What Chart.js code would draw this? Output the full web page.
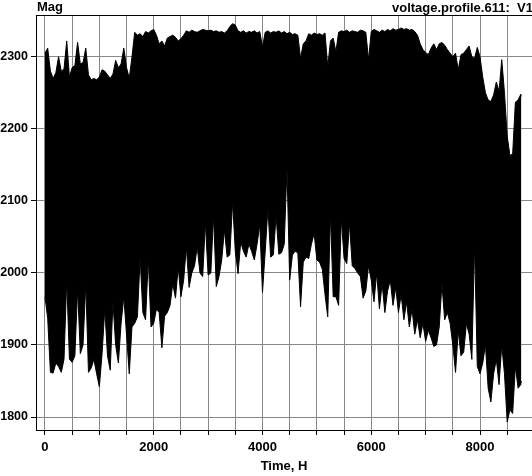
<!DOCTYPE html>
<html>
<head>
<meta charset="utf-8">
<script src="https://cdn.jsdelivr.net/npm/chart.js@4/dist/chart.umd.min.js"></script>
<style>
  html, body { margin: 0; padding: 0; background: #fff; }
  #wrap { width: 532px; height: 476px; }
</style>
</head>
<body>
<div id="wrap"><canvas id="chart" width="532" height="476"></canvas></div>
<script>
// sample hours (x axis)
const hours = [
  0, 50, 100, 150, 200, 250, 300, 350, 400, 450, 500, 550, 600, 650, 700, 750, 800, 850, 900, 950,
  1000, 1050, 1100, 1150, 1200, 1250, 1300, 1350, 1400, 1450, 1500, 1550, 1600, 1650, 1700, 1750, 1800, 1850, 1900, 1950,
  2000, 2050, 2100, 2150, 2200, 2250, 2300, 2350, 2400, 2450, 2500, 2550, 2600, 2650, 2700, 2750, 2800, 2850, 2900, 2950,
  3000, 3050, 3100, 3150, 3200, 3250, 3300, 3350, 3400, 3450, 3500, 3550, 3600, 3650, 3700, 3750, 3800, 3850, 3900, 3950,
  4000, 4050, 4100, 4150, 4200, 4250, 4300, 4350, 4400, 4450, 4500, 4550, 4600, 4650, 4700, 4750, 4800, 4850, 4900, 4950,
  5000, 5050, 5100, 5150, 5200, 5250, 5300, 5350, 5400, 5450, 5500, 5550, 5600, 5650, 5700, 5750, 5800, 5850, 5900, 5950,
  6000, 6050, 6100, 6150, 6200, 6250, 6300, 6350, 6400, 6450, 6500, 6550, 6600, 6650, 6700, 6750, 6800, 6850, 6900, 6950,
  7000, 7050, 7100, 7150, 7200, 7250, 7300, 7350, 7400, 7450, 7500, 7550, 7600, 7650, 7700, 7750, 7800, 7850, 7900, 7950,
  8000, 8050, 8100, 8150, 8200, 8250, 8300, 8350, 8400, 8450, 8500, 8550, 8600, 8650, 8700, 8750, 8760
];

// upper envelope of the voltage magnitude
const upperV = [
  2305, 2312, 2280, 2270, 2278, 2300, 2280, 2283, 2322, 2272, 2285, 2288, 2320, 2290, 2292, 2312, 2275, 2268, 2270, 2268,
  2272, 2282, 2280, 2275, 2270, 2276, 2295, 2285, 2290, 2312, 2285, 2270, 2300, 2334, 2330, 2332, 2328, 2335, 2333, 2336,
  2338, 2330, 2318, 2322, 2315, 2326, 2328, 2330, 2327, 2322, 2325, 2330, 2336, 2334, 2337, 2335, 2334, 2336, 2338, 2337,
  2336, 2337, 2335, 2336, 2334, 2335, 2333, 2336, 2342, 2346, 2344, 2336, 2334, 2336, 2333, 2335, 2334, 2336, 2333, 2335,
  2314, 2334, 2336, 2333, 2335, 2334, 2336, 2333, 2335, 2332, 2334, 2331, 2332, 2330, 2298, 2318, 2322, 2332, 2330, 2333,
  2331, 2332, 2330, 2333, 2286, 2322, 2326, 2307, 2334, 2336, 2335, 2337, 2334, 2336, 2335, 2334, 2337, 2336, 2334, 2296,
  2335, 2338, 2336, 2334, 2337, 2335, 2338, 2336, 2339, 2337, 2338, 2340, 2338, 2339, 2337, 2338, 2335, 2330, 2318, 2310,
  2306, 2303, 2312, 2318, 2310, 2318, 2320, 2316, 2310, 2305, 2300, 2305, 2282, 2303, 2305, 2310, 2315, 2300, 2298, 2313,
  2300, 2272, 2250, 2240, 2238, 2247, 2265, 2252, 2296, 2250, 2190, 2163, 2165, 2237, 2240, 2248, 2245
];

// lower envelope of the voltage magnitude
const lowerV = [
  1967, 1937, 1862, 1861, 1875, 1870, 1862, 1880, 1990, 1880, 1876, 1885, 1978, 1888, 1900, 1985, 1862, 1868, 1880, 1860,
  1842, 1888, 1950, 1885, 1865, 1960, 1900, 1875, 1930, 1967, 1914, 1860, 1925, 1930, 1939, 2021, 1945, 1935, 2020, 1925,
  1930, 1950, 1945, 1896, 1940, 1945, 1955, 1985, 1965, 2008, 1967, 1990, 2036, 1980, 2000, 2010, 2036, 2000, 1995, 2070,
  1997, 2000, 2080, 1981, 1995, 2018, 2060, 2022, 2025, 2099, 2030, 1999, 2043, 2030, 2022, 2040, 2030, 2018, 2040, 2067,
  1973, 2030, 2090, 2022, 2025, 2080, 2026, 2028, 2040, 2146, 1990, 2025, 2030, 2028, 1953, 2015, 2022, 2020, 2040, 2055,
  2018, 2015, 2005, 1970, 1939, 2083, 1967, 1967, 1955, 2076, 2020, 2013, 2069, 2010, 2006, 2000, 1995, 1965, 1975, 2010,
  1990, 1960, 2000, 1950, 1985, 1945, 1975, 1990, 1955, 1980, 1945, 1970, 1935, 1960, 1925, 1950, 1915, 1935, 1910, 1930,
  1905, 1920, 1910, 1898, 1900, 1925, 1985, 1935, 1945, 1930, 1900, 1862, 1920, 1885, 1890, 1930, 1915, 1880, 2039, 1870,
  1860, 1875, 1900, 1840, 1821, 1860, 1880, 1845, 1900, 1860, 1793, 1810, 1805, 1870, 1840, 1845, 1850
];

// axis ticks
const xTicks = [0, 500, 1000, 1500, 2000, 2500, 3000, 3500, 4000, 4500, 5000, 5500, 6000, 6500, 7000, 7500, 8000, 8500];
const xTickLabels = ["0", "", "", "", "2000", "", "", "", "4000", "", "", "", "6000", "", "", "", "8000", ""];
const yTicks = [1800, 1900, 2000, 2100, 2200, 2300];

const fontFamily = "'Liberation Sans', Arial, sans-serif";

const frameAndTitles = {
  id: "frameAndTitles",
  afterDraw(chart) {
    const { ctx, chartArea } = chart;
    ctx.save();
    // top edge of the plot box
    ctx.strokeStyle = "#000";
    ctx.lineWidth = 1;
    ctx.beginPath();
    ctx.moveTo(chartArea.left, chartArea.top + 0.5);
    ctx.lineTo(chart.width, chartArea.top + 0.5);
    ctx.stroke();
    ctx.fillStyle = "#000";
    ctx.font = "bold 13px " + fontFamily;
    ctx.textBaseline = "alphabetic";
    ctx.textAlign = "left";
    ctx.fillText("Mag", 37, 11);
    ctx.fillText("voltage.profile.611:  V1", 392, 12);
    ctx.restore();
  },
};

const ctx = document.getElementById("chart").getContext("2d");
new Chart(ctx, {
  type: "line",
  data: {
    datasets: [
      {
        data: hours.map((h, i) => ({ x: h, y: upperV[i] })),
        borderColor: "#000",
        borderWidth: 1,
        pointRadius: 0,
        tension: 0,
        fill: false,
      },
      {
        data: hours.map((h, i) => ({ x: h, y: lowerV[i] })),
        borderColor: "#000",
        backgroundColor: "#000",
        borderWidth: 1,
        pointRadius: 0,
        tension: 0,
        fill: "-1",
      },
    ],
  },
  options: {
    responsive: false,
    animation: false,
    layout: { padding: { top: 15, right: 0, left: 0, bottom: 0 } },
    plugins: { legend: { display: false }, tooltip: { enabled: false } },
    scales: {
      x: {
        type: "linear",
        min: -165,
        max: 8956,
        afterFit: (scale) => { scale.height = 46; },
        afterBuildTicks: (scale) => { scale.ticks = xTicks.map((v) => ({ value: v })); },
        border: { color: "#000", width: 1 },
        grid: { color: "#888", tickColor: "#000", tickLength: 5 },
        ticks: {
          autoSkip: false,
          maxRotation: 0,
          padding: 5,
          color: "#000",
          font: { family: fontFamily, size: 13, weight: "bold" },
          callback: (v, i) => xTickLabels[i],
        },
        title: {
          display: true,
          text: "Time, H",
          color: "#000",
          padding: { top: 0, bottom: 2 },
          font: { family: fontFamily, size: 13, weight: "bold" },
        },
      },
      y: {
        min: 1782,
        max: 2358,
        afterFit: (scale) => { scale.width = 36; },
        afterBuildTicks: (scale) => { scale.ticks = yTicks.map((v) => ({ value: v })); },
        border: { color: "#000", width: 1 },
        grid: { color: "#888", tickColor: "#000", tickLength: 5 },
        ticks: {
          autoSkip: false,
          padding: 3,
          color: "#000",
          font: { family: fontFamily, size: 12.5, weight: "bold" },
          callback: (v) => String(v),
        },
      },
    },
  },
  plugins: [frameAndTitles],
});
</script>
</body>
</html>
